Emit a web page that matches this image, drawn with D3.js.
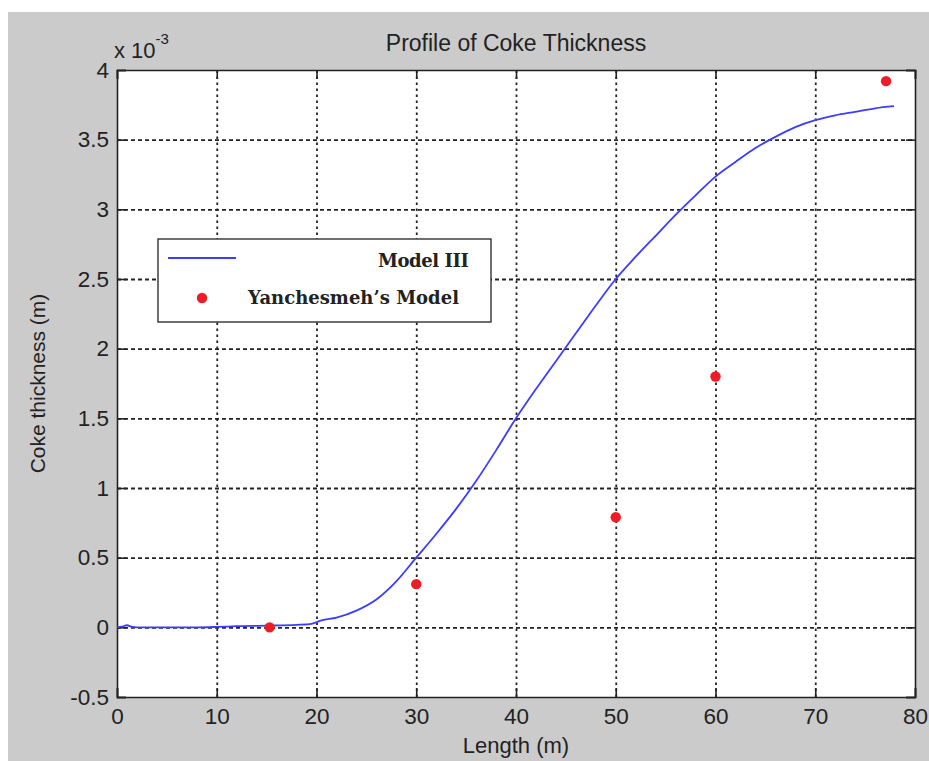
<!DOCTYPE html>
<html>
<head>
<meta charset="utf-8">
<script src="https://cdn.jsdelivr.net/npm/d3@7"></script>
<style>
  body { margin: 0; background: #fff; }
  text { font-family: "Liberation Sans", Arial, sans-serif; fill: #222; }
</style>
</head>
<body>
<script>
// curva del Model III (longitud en m, espesor en 1e-3 m)
var lengthM = [0, 0.5, 1, 1.5, 2, 5, 8, 10, 12, 15, 18, 19.5, 20.5, 22, 24, 26, 28, 30, 32, 34, 36, 38, 40,
               42, 44, 46, 48, 50, 52, 54, 56, 58, 60, 62, 64, 66, 68, 70, 72, 74, 76, 77.9]
var modelIII = [0, 0.005, 0.015, 0.003, 0, 0, 0, 0.003, 0.008, 0.012, 0.018, 0.025, 0.05, 0.07, 0.12, 0.2, 0.33, 0.5, 0.67, 0.85, 1.05, 1.27, 1.5,
                1.71, 1.91, 2.11, 2.31, 2.5, 2.66, 2.81, 2.96, 3.1, 3.235, 3.34, 3.44, 3.52, 3.59, 3.64, 3.675, 3.70, 3.725, 3.74]

// puntos del modelo de Yanchesmeh
var yanX = [15.3, 30, 50, 60, 77.1]
var yanY = [0, 0.31, 0.79, 1.8, 3.92]

var xTicks = [0, 10, 20, 30, 40, 50, 60, 70, 80]
var yTicks = [-0.5, 0, 0.5, 1, 1.5, 2, 2.5, 3, 3.5, 4]

var W = 929, H = 761
var m = {left: 117, top: 70, right: 915, bottom: 697}

var svg = d3.select("body").append("svg")
    .attr("width", W)
    .attr("height", H)

// fondo gris de la figura
svg.append("rect")
    .attr("x", 8).attr("y", 12)
    .attr("width", W - 8).attr("height", H - 12)
    .attr("fill", "#cbcbcb")

var x = d3.scaleLinear().domain([0, 80]).range([m.left, m.right])
var y = d3.scaleLinear().domain([-0.5, 4]).range([m.bottom, m.top])

// area blanca del grafico
svg.append("rect")
    .attr("x", m.left).attr("y", m.top)
    .attr("width", m.right - m.left).attr("height", m.bottom - m.top)
    .attr("fill", "#fff")

// grid punteado
var gx = svg.append("g")
    .attr("transform", "translate(0," + m.bottom + ")")
    .call(d3.axisBottom(x).tickValues(xTicks.slice(1, -1)).tickSize(-(m.bottom - m.top)).tickFormat(""))
gx.select(".domain").remove()
gx.selectAll("line").attr("stroke", "#222").attr("stroke-width", 1.8).attr("stroke-dasharray", "2.5,3.5")

var gy = svg.append("g")
    .attr("transform", "translate(" + m.left + ",0)")
    .call(d3.axisLeft(y).tickValues(yTicks.slice(1, -1)).tickSize(-(m.right - m.left)).tickFormat(""))
gy.select(".domain").remove()
gy.selectAll("line").attr("stroke", "#222").attr("stroke-width", 1.8).attr("stroke-dasharray", "4,3")

// ejes con ticks hacia dentro
var fmt = d => String(d)
var ax = [
  svg.append("g").attr("transform", "translate(0," + m.bottom + ")")
     .call(d3.axisBottom(x).tickValues(xTicks).tickSize(-9).tickPadding(11).tickFormat(fmt)),
  svg.append("g").attr("transform", "translate(0," + m.top + ")")
     .call(d3.axisTop(x).tickValues(xTicks).tickSize(-9).tickFormat("")),
  svg.append("g").attr("transform", "translate(" + m.left + ",0)")
     .call(d3.axisLeft(y).tickValues(yTicks).tickSize(-9).tickPadding(8).tickFormat(fmt)),
  svg.append("g").attr("transform", "translate(" + m.right + ",0)")
     .call(d3.axisRight(y).tickValues(yTicks).tickSize(-9).tickFormat(""))
]
ax.forEach(g => {
  g.select(".domain").attr("stroke", "#222").attr("stroke-width", 1.6)
  g.selectAll("line").attr("stroke", "#222").attr("stroke-width", 1.6)
  g.selectAll("text").style("font-size", "22.5px").attr("fill", "#222")
})

// linea del modelo
var line = d3.line().x((d, i) => x(lengthM[i])).y(d => y(d)).curve(d3.curveMonotoneX)
svg.append("path")
    .datum(modelIII)
    .attr("d", line)
    .attr("fill", "none")
    .attr("stroke", "#3c3cff")
    .attr("stroke-width", 1.8)

// puntos rojos
svg.append("g").selectAll("circle")
    .data(yanY)
    .enter()
    .append("circle")
    .attr("cx", (d, i) => x(yanX[i]))
    .attr("cy", d => y(d))
    .attr("r", 5.2)
    .attr("fill", "#ee1c24")

// textos
svg.append("text")
    .attr("x", (m.left + m.right) / 2).attr("y", 51)
    .attr("text-anchor", "middle")
    .style("font-size", "23px")
    .text("Profile of Coke Thickness")

svg.append("text")
    .attr("x", (m.left + m.right) / 2).attr("y", 753)
    .attr("text-anchor", "middle")
    .style("font-size", "22px")
    .text("Length (m)")

svg.append("text")
    .attr("transform", "translate(45," + ((m.top + m.bottom) / 2) + ") rotate(-90)")
    .attr("text-anchor", "middle")
    .style("font-size", "21px")
    .text("Coke thickness (m)")

var exp = svg.append("text").attr("x", 114).attr("y", 58).style("font-size", "22px")
exp.append("tspan").text("x 10")
exp.append("tspan").attr("dy", -14).style("font-size", "15px").text("-3")

// leyenda
var leg = svg.append("g")
leg.append("rect")
    .attr("x", 158).attr("y", 239).attr("width", 333).attr("height", 83)
    .attr("fill", "#fff").attr("stroke", "#222").attr("stroke-width", 1.3)
leg.append("line")
    .attr("x1", 168).attr("x2", 236).attr("y1", 258).attr("y2", 258)
    .attr("stroke", "#3c3cff").attr("stroke-width", 2.2)
leg.append("circle")
    .attr("cx", 202).attr("cy", 298).attr("r", 5.2)
    .attr("fill", "#ee1c24")
leg.append("text")
    .attr("x", 469).attr("y", 267).attr("text-anchor", "end")
    .style("font-family", "'DejaVu Serif', serif").style("font-weight", "bold").style("font-size", "18px")
    .attr("textLength", 91)
    .text("Model III")
leg.append("text")
    .attr("x", 248).attr("y", 304)
    .style("font-family", "'DejaVu Serif', serif").style("font-weight", "bold").style("font-size", "18px")
    .attr("textLength", 211)
    .text("Yanchesmeh\u2019s Model")
</script>
</body>
</html>
